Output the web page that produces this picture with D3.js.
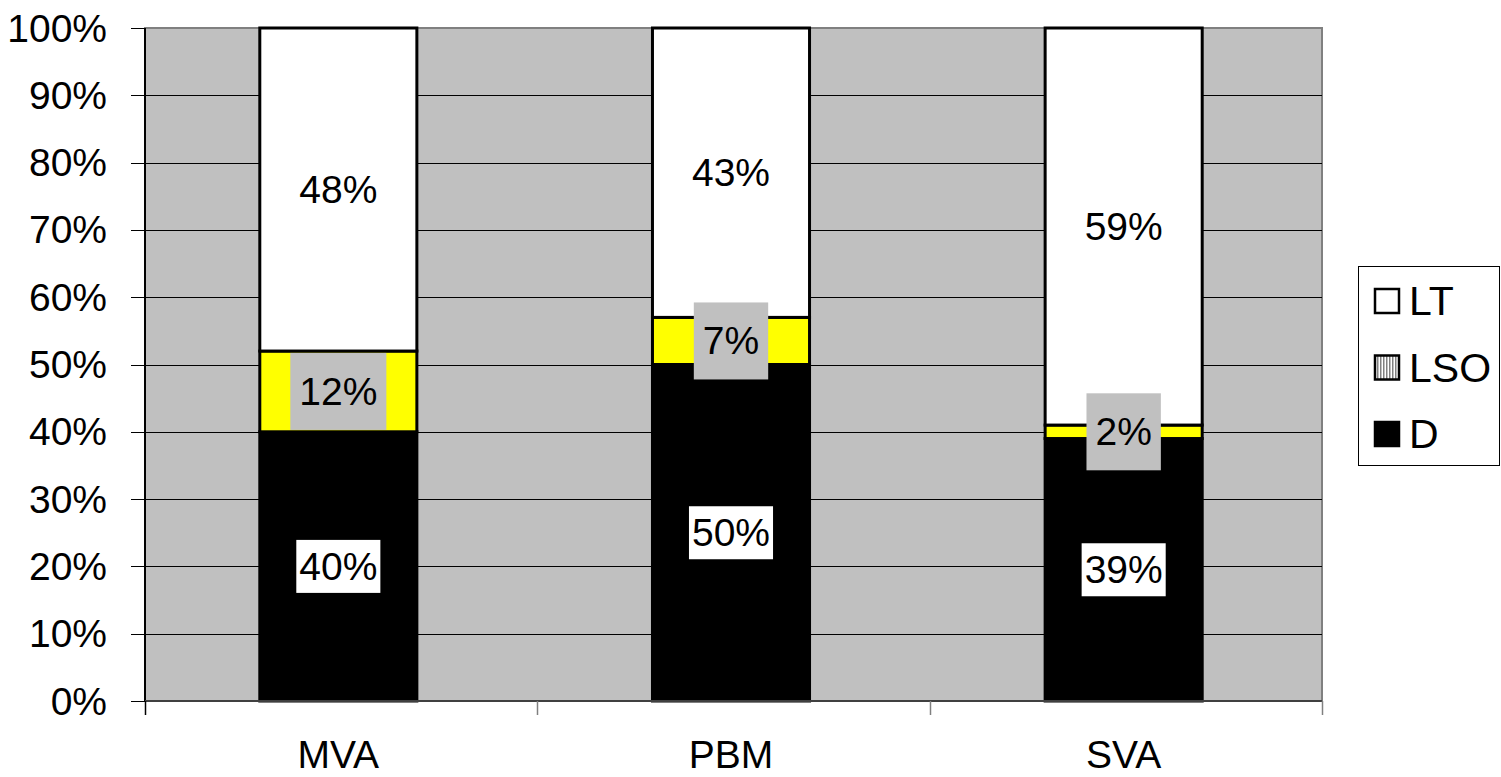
<!DOCTYPE html>
<html>
<head>
<meta charset="utf-8">
<script src="https://cdn.jsdelivr.net/npm/d3@7"></script>
<style>
  html, body { margin: 0; padding: 0; background: #fff; }
  svg { display: block; }
  text { font-family: "Liberation Sans", Arial, sans-serif; fill: #000; }
</style>
</head>
<body>
<svg id="chart" width="1501" height="777"></svg>
<script>
// Stacked 100% bars: share of D, LSO and LT per group
const categories = ["MVA", "PBM", "SVA"];
const seriesNames = ["D", "LSO", "LT"];
const valuesD = [40, 50, 39];
const valuesLSO = [12, 7, 2];
const valuesLT = [48, 43, 59];
const yTickValues = [0, 10, 20, 30, 40, 50, 60, 70, 80, 90, 100];
const yTickLabels = ["0%", "10%", "20%", "30%", "40%", "50%", "60%", "70%", "80%", "90%", "100%"];
const legendOrder = ["LT", "LSO", "D"];

const seriesValues = { D: valuesD, LSO: valuesLSO, LT: valuesLT };
const seriesFill = { D: "#000000", LSO: "#ffff00", LT: "#ffffff" };

const plot = { left: 145, right: 1322, top: 28, bottom: 701 };
const FONT = 39;

const svg = d3.select("#chart");

// striped swatch used in the legend for LSO
const defs = svg.append("defs");
const pat = defs.append("pattern")
  .attr("id", "stripes").attr("patternUnits", "userSpaceOnUse")
  .attr("width", 3).attr("height", 3);
pat.append("rect").attr("width", 3).attr("height", 3).attr("fill", "#ffffff");
pat.append("rect").attr("width", 1.5).attr("height", 3).attr("fill", "#808080");

// bars sit a touch left of the category centres
const x = d3.scaleBand()
  .domain(categories)
  .range([plot.left - 3, plot.right - 2])
  .paddingInner(0.6)
  .paddingOuter(0.3);

const y = d3.scaleLinear().domain([0, 100]).range([plot.bottom, plot.top]);

// plot background
svg.append("rect")
  .attr("x", plot.left).attr("y", plot.top)
  .attr("width", plot.right - plot.left).attr("height", plot.bottom - plot.top)
  .attr("fill", "#c0c0c0")
  .attr("stroke", "#808080").attr("stroke-width", 2);

// horizontal gridlines
svg.append("g").selectAll("line")
  .data(yTickValues.filter(v => v > 0 && v < 100))
  .join("line")
  .attr("x1", plot.left).attr("x2", plot.right)
  .attr("y1", d => Math.round(y(d)) + 0.5).attr("y2", d => Math.round(y(d)) + 0.5)
  .attr("stroke", "#000").attr("stroke-width", 1);

// stacked layout
const table = categories.map((c, i) => {
  const row = { category: c };
  seriesNames.forEach(s => { row[s] = seriesValues[s][i]; });
  return row;
});
const stacked = d3.stack().keys(seriesNames)(table);

const layers = svg.append("g").selectAll("g")
  .data(stacked)
  .join("g")
  .attr("fill", d => seriesFill[d.key]);

layers.selectAll("rect")
  .data(d => d.map(p => ({ key: d.key, p })))
  .join("rect")
  .attr("x", d => x(d.p.data.category))
  .attr("width", x.bandwidth())
  .attr("y", d => y(d.p[1]))
  .attr("height", d => y(d.p[0]) - y(d.p[1]))
  .attr("stroke", "#000")
  .attr("stroke-width", 3);

// value labels
const labelStyle = {
  D: { box: "#ffffff", padX: 3, h: 53 },
  LSO: { box: "#c0c0c0", padX: 9, h: 77 },
  LT: { box: null, padX: 0, h: 0 }
};
const labels = svg.append("g");
stacked.forEach(layer => {
  layer.forEach(p => {
    const v = p[1] - p[0];
    const cx = x(p.data.category) + x.bandwidth() / 2;
    const cy = y((p[0] + p[1]) / 2);
    const st = labelStyle[layer.key];
    const g = labels.append("g");
    const t = g.append("text")
      .attr("x", cx).attr("y", cy)
      .attr("text-anchor", "middle")
      .attr("dominant-baseline", "central")
      .attr("font-size", FONT)
      .text(v + "%");
    if (st.box) {
      const w = t.node().getComputedTextLength() + st.padX * 2;
      g.insert("rect", "text")
        .attr("x", cx - w / 2).attr("y", cy - st.h / 2)
        .attr("width", w).attr("height", st.h)
        .attr("fill", st.box);
    }
  });
});

// y axis
svg.append("line")
  .attr("x1", plot.left).attr("x2", plot.left)
  .attr("y1", plot.top).attr("y2", plot.bottom)
  .attr("stroke", "#000").attr("stroke-width", 2);
const yAxis = svg.append("g");
yAxis.selectAll("line")
  .data(yTickValues)
  .join("line")
  .attr("x1", plot.left - 14).attr("x2", plot.left)
  .attr("y1", d => Math.round(y(d)) + 0.5).attr("y2", d => Math.round(y(d)) + 0.5)
  .attr("stroke", "#000");
yAxis.selectAll("text")
  .data(yTickValues)
  .join("text")
  .attr("x", plot.left - 38)
  .attr("y", d => y(d))
  .attr("text-anchor", "end")
  .attr("dominant-baseline", "central")
  .attr("font-size", FONT)
  .text((d, i) => yTickLabels[i]);

// x axis
svg.append("line")
  .attr("x1", plot.left).attr("x2", plot.right)
  .attr("y1", plot.bottom).attr("y2", plot.bottom)
  .attr("stroke", "#404040").attr("stroke-width", 2);
const step = (plot.right - plot.left) / categories.length;
const bounds = d3.range(categories.length + 1).map(i => plot.left + i * step);
svg.append("g").selectAll("line")
  .data(bounds)
  .join("line")
  .attr("x1", d => Math.round(d) + 0.5).attr("x2", d => Math.round(d) + 0.5)
  .attr("y1", plot.bottom).attr("y2", plot.bottom + 14)
  .attr("stroke", (d, i) => i === 0 ? "#000" : "#808080")
  .attr("stroke-width", 1.5);
svg.append("g").selectAll("text")
  .data(categories)
  .join("text")
  .attr("x", d => x(d) + x.bandwidth() / 2)
  .attr("y", 768)
  .attr("text-anchor", "middle")
  .attr("font-size", FONT)
  .text(d => d);

// legend
const legend = svg.append("g");
legend.append("rect")
  .attr("x", 1358.5).attr("y", 266.5)
  .attr("width", 141).attr("height", 199)
  .attr("fill", "#fff").attr("stroke", "#000").attr("stroke-width", 1);
const legendY = d3.scalePoint().domain(legendOrder).range([301, 434]);
legendOrder.forEach(key => {
  const cy = legendY(key);
  legend.append("rect")
    .attr("x", 1375).attr("y", cy - 12)
    .attr("width", 24).attr("height", 24)
    .attr("fill", key === "LSO" ? "url(#stripes)" : seriesFill[key])
    .attr("stroke", "#000").attr("stroke-width", 2.5);
  legend.append("text")
    .attr("x", 1409).attr("y", cy)
    .attr("dominant-baseline", "central")
    .attr("font-size", 41)
    .text(key);
});
</script>
</body>
</html>
